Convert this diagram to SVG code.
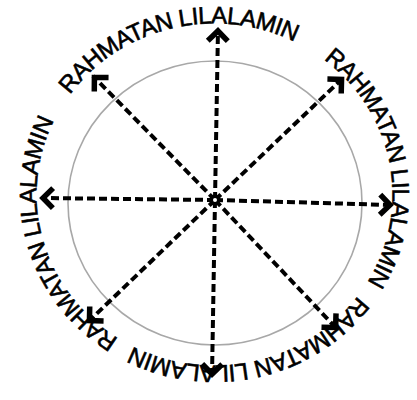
<svg xmlns="http://www.w3.org/2000/svg" width="417" height="400" viewBox="0 0 417 400">
  <style>
    .ring { fill: none; stroke: #a8a8a8; stroke-width: 1.6; }
    .conn { fill: none; stroke: #000; stroke-width: 4; stroke-dasharray: 8 4; marker-end: url(#chev); }
    .lbl { font-family: "Liberation Sans", Arial, sans-serif; font-size: 24px; fill: #000; stroke: #000; stroke-width: 0.6; text-anchor: middle; }
  </style>
  <defs>
    <marker id="chev" markerUnits="userSpaceOnUse" viewBox="-20 -16 26 32" markerWidth="26" markerHeight="32" refX="0" refY="0" orient="auto" overflow="visible">
      <path d="M -12 -10 L -2 0 L -12 10" fill="none" stroke="#000" stroke-width="5.5" stroke-linejoin="miter" stroke-linecap="butt"/>
    </marker>
    <path id="textring" d="M 392.5 194.5 A 178 171 0 0 1 36.5 194.5 A 178 171 0 0 1 392.5 194.5 A 178 171 0 0 1 36.5 194.5 A 178 171 0 0 1 392.5 194.5"/>
  </defs>
  <g id="circle">
    <ellipse class="ring" cx="215" cy="203" rx="147" ry="142"/>
  </g>
  <g id="connectors">
    <line class="conn" x1="215" y1="200" x2="218" y2="29"/>
    <line class="conn" x1="215" y1="200" x2="343" y2="78"/>
    <line class="conn" x1="215" y1="200" x2="392" y2="205"/>
    <line class="conn" x1="215" y1="200" x2="337" y2="329"/>
    <line class="conn" x1="215" y1="200" x2="212" y2="376"/>
    <line class="conn" x1="215" y1="200" x2="88" y2="322"/>
    <line class="conn" x1="215" y1="200" x2="41" y2="198"/>
    <line class="conn" x1="215" y1="200" x2="93" y2="76"/>
  </g>
  <g id="center">
    <circle cx="215" cy="200" r="5.5" fill="#000"/>
    <circle cx="215" cy="200" r="2" fill="#fff"/>
  </g>
  <g id="label-top">
    <text class="lbl"><textPath href="#textring" startOffset="780" textLength="250" lengthAdjust="spacing">RAHMATAN LILALAMIN</textPath></text>
  </g>
  <g id="label-right">
    <text class="lbl"><textPath href="#textring" startOffset="1064" textLength="250" lengthAdjust="spacing">RAHMATAN LILALAMIN</textPath></text>
  </g>
  <g id="label-bottom">
    <text class="lbl"><textPath href="#textring" startOffset="234" textLength="250" lengthAdjust="spacing">RAHMATAN LILALAMIN</textPath></text>
  </g>
  <g id="label-left">
    <text class="lbl"><textPath href="#textring" startOffset="500" textLength="250" lengthAdjust="spacing">RAHMATAN LILALAMIN</textPath></text>
  </g>
</svg>
